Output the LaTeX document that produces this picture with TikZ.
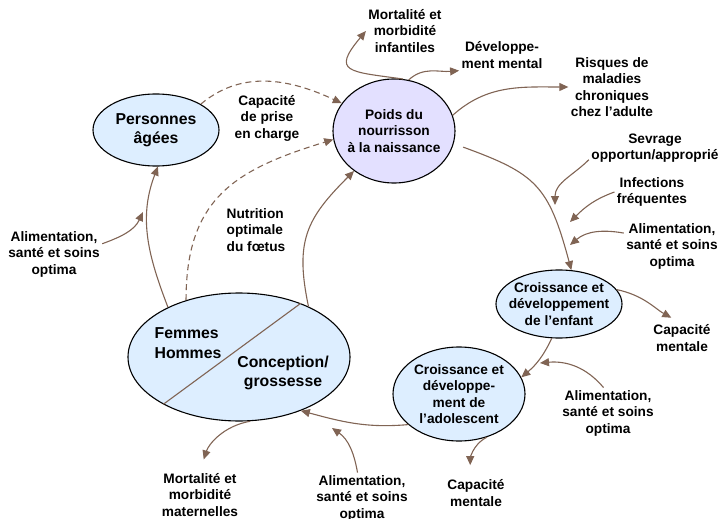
\documentclass[tikz,border=0pt]{standalone}
\usepackage{fontspec}
\setmainfont{Liberation Sans}
\usetikzlibrary{arrows.meta,shapes.geometric}
\definecolor{arrowbrown}{RGB}{128,100,84}
\definecolor{nodeblue}{RGB}{221,238,255}
\definecolor{nodelilac}{RGB}{227,224,255}

\begin{document}
\begin{tikzpicture}[x=1pt,y=1pt,->,>={Triangle[length=9pt,width=8pt]},
		line width=1.1pt,
		main node/.style={ellipse,draw=black,fill=nodeblue,inner sep=0pt},
		big text/.style={font=\bfseries\fontsize{15.8}{19.5}\selectfont},
		label node/.style={align=center,inner sep=2pt,font=\bfseries\fontsize{13.7}{16.5}\selectfont},
		every label/.style={align=center,inner sep=0pt,font=\bfseries\fontsize{13.7}{16.5}\selectfont},
		dashed line/.style={dash pattern=on 6pt off 4pt}]
		
		\useasboundingbox (0,0) rectangle (721,-519);
		
		\node[main node, minimum width=126pt, minimum height=72pt, label={[big text]center:{Personnes\\âgées}}] (pers) at (156,-130) {};
		\node[main node, fill=nodelilac, minimum width=122pt, minimum height=104pt, label={center:{Poids du\\nourrisson\\à la naissance}}] (poids) at (394,-131) {};
		\node[main node, minimum width=126pt, minimum height=68pt, label={center:{Croissance et\\développement\\de l’enfant}}] (enf) at (559,-304) {};
		\node[main node, minimum width=132pt, minimum height=94pt, label={center:{Croissance et\\développe-\\ment de\\l’adolescent}}] (ado) at (459,-394) {};
		\node[main node, minimum width=222pt, minimum height=128pt] (fem) at (239,-357) {};
		\draw[-,arrowbrown] (fem.41) -- (fem.212);
		\node[big text, align=left] (femHom) at (188,-343) {Femmes\\Hommes};
		\node[big text, align=center] (concep) at (283,-373) {Conception/\\grossesse};
		
		\node[label node] (capCharge) at (267,-118) {Capacité\\de prise\\en charge};
		\node[label node, align=left] (nutrition) at (256,-230) {Nutrition\\optimale\\du fœtus};
		\node[label node] (alimAges) at (54,-254) {Alimentation,\\santé et soins\\optima};
		\node[label node] (mortInf) at (405,-31) {Mortalité et\\morbidité\\infantiles};
		\node[label node] (devMental) at (502,-55) {Développe-\\ment mental};
		\node[label node] (risques) at (612,-87) {Risques de\\maladies\\chroniques\\chez l’adulte};
		\node[label node] (sevrage) at (655,-148) {Sevrage\\opportun/approprié};
		\node[label node] (infections) at (652,-192) {Infections\\fréquentes};
		\node[label node] (alimEnf) at (672,-246) {Alimentation,\\santé et soins\\optima};
		\node[label node] (capEnf) at (682,-338) {Capacité\\mentale};
		\node[label node] (alimAdo) at (608,-413) {Alimentation,\\santé et soins\\optima};
		\node[label node] (capAdo) at (476,-493) {Capacité\\mentale};
		\node[label node] (alimConc) at (362,-498) {Alimentation,\\santé et soins\\optima};
		\node[label node] (mortMat) at (200,-495) {Mortalité et\\morbidité\\maternelles};
		
		% points where the side arrows meet the cycle
		\coordinate (c1) at (143,-212);
		\coordinate (c2) at (555,-205);
		\coordinate (c3) at (570,-222);
		\coordinate (c4) at (570,-245);
		\coordinate (c5) at (540,-363);
		\coordinate (c6) at (332,-428);
		
		\path[arrowbrown]
		(pers.30) edge[dashed line, out=40, in=155] (poids.152)
		(fem.133) edge[dashed line, out=90, in=197, looseness=1.2] (poids.188)
		(fem.145) edge[out=111, in=249] (pers.-87)
		(alimAges.12) edge[out=20, in=245] (c1)
		(fem.36) edge[out=102, in=225, looseness=1.2] (poids.225)
		(poids.80) edge[out=172, in=230, looseness=2.3] (mortInf.west)
		(poids.74) edge[out=43, in=185] (devMental.200)
		(poids.15) edge[out=42, in=180] (risques.west)
		(poids.-12) edge[out=-20, in=105, looseness=1.3, shorten <=10pt] (enf.70)
		(sevrage.190) edge[out=225, in=90] (c2)
		(infections.west) edge[out=200, in=45] (c3)
		(alimEnf.165) edge[out=170, in=40] (c4)
		(enf.14) edge[out=-12, in=151, shorten >=9pt] (capEnf.100)
		(enf.-102) edge[out=245, in=40] (ado.15)
		(alimAdo.100) edge[out=130, in=5] (c5)
		(ado.-57) edge[out=207, in=90, shorten >=12pt] (capAdo.110)
		(ado.211) edge[out=185, in=-15] (fem.-41)
		(alimConc.100) edge[out=100, in=-35] (c6)
		(fem.-80) edge[out=190, in=72, shorten >=12pt] (mortMat.north);
\end{tikzpicture}
\end{document}
